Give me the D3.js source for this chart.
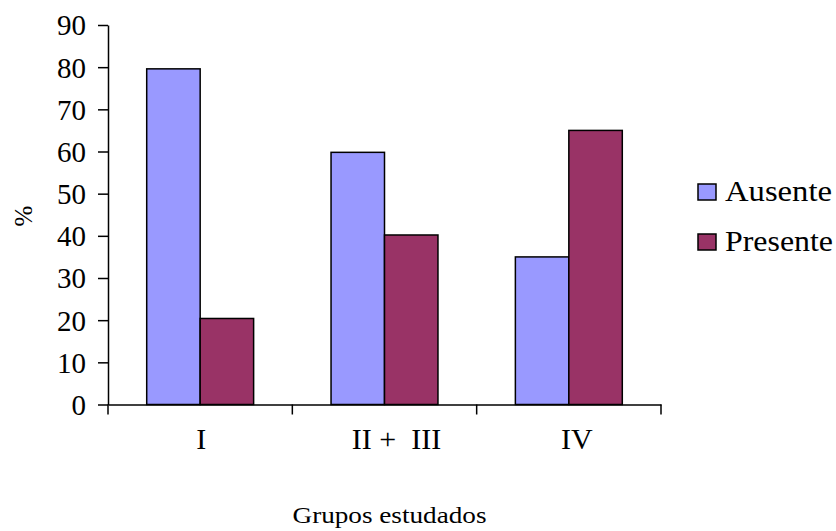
<!DOCTYPE html>
<html>
<head>
<meta charset="utf-8">
<script src="https://cdn.jsdelivr.net/npm/d3@7"></script>
<style>
  body { margin: 0; background: #fff; }
  svg text { font-family: 'Liberation Serif', 'Times New Roman', Times, 'DejaVu Serif', serif !important; fill: #000; }
</style>
</head>
<body>
<div id="chart"></div>
<script>
'use strict'

// data
const categories = ['I', 'II +  III', 'IV'];
const seriesNames = ['Ausente', 'Presente'];
const ausente = [79.6, 59.8, 35];
const presente = [20.4, 40.2, 65];
const yTicks = [0, 10, 20, 30, 40, 50, 60, 70, 80, 90];
const colors = ['#9999ff', '#993366'];

const width = 836, height = 531;
const plot = { left: 108, right: 661, top: 25, bottom: 404.5 };

const svg = d3.select('#chart').append('svg')
  .attr('width', width)
  .attr('height', height);

const yScale = d3.scaleLinear()
  .domain([0, 90])
  .range([plot.bottom, plot.top]);

const xScale = d3.scaleBand()
  .domain(categories)
  .range([plot.left, plot.right])
  .padding(0);

const sScale = d3.scaleBand()
  .domain(seriesNames)
  .range([0, xScale.bandwidth()])
  .paddingInner(0)
  .paddingOuter(0.724);

const rows = categories.map((c, i) => ({ cat: c, values: [ausente[i], presente[i]] }));

// bars
const groups = svg.append('g').selectAll('g')
  .data(rows)
  .enter().append('g')
  .attr('transform', d => 'translate(' + xScale(d.cat) + ',0)');

groups.selectAll('rect')
  .data(d => d.values.map((v, j) => ({ name: seriesNames[j], value: v, j: j })))
  .enter().append('rect')
  .attr('x', d => sScale(d.name))
  .attr('y', d => yScale(d.value))
  .attr('width', sScale.bandwidth())
  .attr('height', d => yScale(0) - yScale(d.value))
  .style('fill', d => colors[d.j])
  .style('stroke', '#000')
  .style('stroke-width', 1.5);

// y axis
const yAxis = d3.axisLeft(yScale)
  .tickValues(yTicks)
  .tickSize(10)
  .tickSizeOuter(0)
  .tickPadding(12);
const yGuide = svg.append('g')
  .attr('transform', 'translate(' + plot.left + ',0)')
  .call(yAxis)
  .attr('font-family', null);
yGuide.select('.domain').style('stroke', '#000').style('stroke-width', 1.5);
yGuide.selectAll('line').style('stroke', '#000').style('stroke-width', 1.5);
yGuide.selectAll('text')
  .style('font-size', '29px')
  .attr('dy', '0.34em');

// x axis: ticks at category boundaries
const xAxis = d3.axisBottom(xScale).tickSize(0).tickSizeOuter(0).tickPadding(23);
const xGuide = svg.append('g')
  .attr('transform', 'translate(0,' + plot.bottom + ')')
  .call(xAxis)
  .attr('font-family', null);
xGuide.select('.domain').style('stroke', '#000').style('stroke-width', 1.5);
xGuide.selectAll('text')
  .style('font-size', '30px')
  .style('white-space', 'pre')
  .attr('dx', (d, i) => [1, 12, 8][i])
  .attr('dy', '0.71em');

const bounds = categories.map(c => xScale(c)).concat([xScale(categories[categories.length - 1]) + xScale.bandwidth()]);
xGuide.selectAll('line.sep')
  .data(bounds)
  .enter().append('line')
  .attr('class', 'sep')
  .attr('x1', d => d).attr('x2', d => d)
  .attr('y1', 0).attr('y2', 10)
  .style('stroke', '#000')
  .style('stroke-width', 1.5);

// axis titles
svg.append('text')
  .attr('x', (plot.left + plot.right) / 2 + 5)
  .attr('y', 523)
  .attr('text-anchor', 'middle')
  .attr('textLength', 194)
  .attr('lengthAdjust', 'spacingAndGlyphs')
  .style('font-size', '24px')
  .text('Grupos estudados');

svg.append('text')
  .attr('transform', 'translate(32,216) rotate(-90)')
  .attr('text-anchor', 'middle')
  .style('font-size', '25px')
  .text('%');

// legend
const legend = svg.append('g').selectAll('g')
  .data(seriesNames)
  .enter().append('g')
  .attr('transform', (d, i) => 'translate(698,' + (184 + i * 50) + ')');

legend.append('rect')
  .attr('width', 18)
  .attr('height', 16)
  .style('fill', (d, i) => colors[i])
  .style('stroke', '#000')
  .style('stroke-width', 1.5);

legend.append('text')
  .attr('x', 27)
  .attr('y', 16.5)
  .attr('textLength', (d, i) => [107, 108][i])
  .attr('lengthAdjust', 'spacingAndGlyphs')
  .style('font-size', '30px')
  .text(d => d);
</script>
</body>
</html>
